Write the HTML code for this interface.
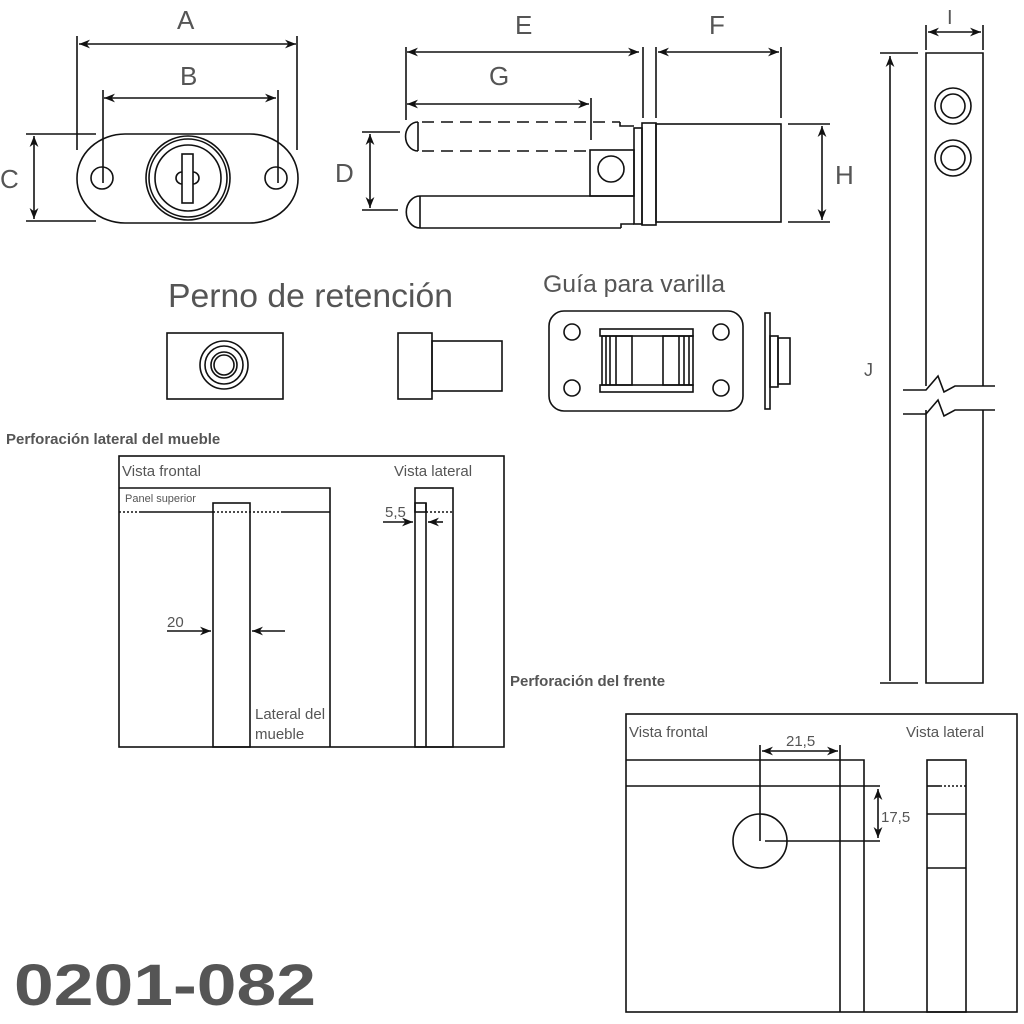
<!DOCTYPE html>
<html><head><meta charset="utf-8"><style>
html,body{margin:0;padding:0;background:#fff;}
svg{display:block;}
text{font-family:"Liberation Sans",sans-serif;fill:#555;}
</style></head><body>
<svg width="1024" height="1024" viewBox="0 0 1024 1024" xmlns="http://www.w3.org/2000/svg">
<defs>
<marker id="ar" viewBox="0 0 10 10" refX="10" refY="5" markerWidth="12" markerHeight="11" orient="auto-start-reverse" markerUnits="userSpaceOnUse"><path d="M0,1 L10,5 L0,9 L3,5 z" fill="#111"/></marker>
</defs>
<g stroke="#111" stroke-width="1.6" fill="none">
<line x1="79" y1="44" x2="296" y2="44" marker-start="url(#ar)" marker-end="url(#ar)"/>
<line x1="77" y1="36" x2="77" y2="150"/><line x1="297" y1="36" x2="297" y2="150"/>
<line x1="104" y1="98" x2="276" y2="98" marker-start="url(#ar)" marker-end="url(#ar)"/>
<line x1="103" y1="90" x2="103" y2="183"/><line x1="278" y1="90" x2="278" y2="183"/>
<rect x="77" y="134" width="221" height="89" rx="48" ry="44"/>
<circle cx="102" cy="178" r="11"/><circle cx="276" cy="178" r="11"/>
<circle cx="188" cy="178" r="42"/><circle cx="188" cy="178" r="39"/><circle cx="188" cy="178" r="33"/>
<rect x="182" y="154" width="11" height="49"/>
<path d="M182,172 a6,6 0 0 0 0,12 M193,172 a6,6 0 0 1 0,12"/>
<line x1="34" y1="136" x2="34" y2="219" marker-start="url(#ar)" marker-end="url(#ar)"/>
<line x1="26" y1="134" x2="96" y2="134"/><line x1="26" y1="221" x2="96" y2="221"/>
<line x1="407" y1="52" x2="639" y2="52" marker-start="url(#ar)" marker-end="url(#ar)"/>
<line x1="406" y1="47" x2="406" y2="120"/>
<line x1="407" y1="104" x2="589" y2="104" marker-start="url(#ar)" marker-end="url(#ar)"/>
<line x1="591" y1="98" x2="591" y2="140"/>
<path d="M418,122 a12,14 0 0 0 0,29" />
<line x1="418" y1="122" x2="418" y2="151"/>
<line x1="422" y1="122" x2="620" y2="122" stroke-dasharray="12,7"/>
<line x1="422" y1="151" x2="590" y2="151" stroke-dasharray="12,7"/>
<path d="M420,196 a12,14 0 0 0 0,32"/>
<line x1="420" y1="196" x2="420" y2="228"/>
<line x1="420" y1="196" x2="634" y2="196"/>
<line x1="420" y1="228" x2="621" y2="228"/>
<path d="M621,228 v-4 h13 M620,122 v4 h14"/>
<rect x="590" y="150" width="44" height="46"/>
<circle cx="611" cy="169" r="13"/>
<rect x="634" y="128" width="8" height="96"/>
<rect x="642" y="123" width="14" height="102"/>
<rect x="656" y="124" width="125" height="98"/>
<line x1="643" y1="47" x2="643" y2="118"/><line x1="656" y1="47" x2="656" y2="118"/>
<line x1="658" y1="52" x2="779" y2="52" marker-start="url(#ar)" marker-end="url(#ar)"/>
<line x1="781" y1="47" x2="781" y2="118"/>
<line x1="370" y1="134" x2="370" y2="208" marker-start="url(#ar)" marker-end="url(#ar)"/>
<line x1="362" y1="132" x2="400" y2="132"/><line x1="362" y1="210" x2="398" y2="210"/>
<line x1="822" y1="126" x2="822" y2="220" marker-start="url(#ar)" marker-end="url(#ar)"/>
<line x1="788" y1="124" x2="830" y2="124"/><line x1="788" y1="222" x2="830" y2="222"/>
<line x1="928" y1="32" x2="981" y2="32" marker-start="url(#ar)" marker-end="url(#ar)"/>
<line x1="926" y1="25" x2="926" y2="50"/><line x1="983" y1="25" x2="983" y2="50"/>
<path d="M926,386 V53 H983 V386"/>
<path d="M926,410 V683 H983 V410"/>
<circle cx="953" cy="106" r="18"/><circle cx="953" cy="106" r="12"/>
<circle cx="953" cy="158" r="18"/><circle cx="953" cy="158" r="12"/>
<path d="M903,390 H926 L938,376 L944,392 L955,386 H995"/>
<path d="M903,414 H926 L938,400 L944,416 L955,410 H995"/>
<line x1="890" y1="681" x2="890" y2="56" marker-end="url(#ar)"/>
<line x1="880" y1="53" x2="918" y2="53"/><line x1="880" y1="683" x2="918" y2="683"/>
<rect x="167" y="333" width="116" height="66"/>
<circle cx="224" cy="365" r="24"/><circle cx="224" cy="365" r="19"/><circle cx="224" cy="365" r="13"/><circle cx="224" cy="365" r="10"/>
<rect x="398" y="333" width="34" height="66"/>
<rect x="432" y="341" width="70" height="50"/>
<rect x="549" y="311" width="194" height="100" rx="15"/>
<circle cx="572" cy="332" r="8"/><circle cx="721" cy="332" r="8"/><circle cx="572" cy="388" r="8"/><circle cx="721" cy="388" r="8"/>
<rect x="600" y="329" width="93" height="7"/><rect x="600" y="385" width="93" height="7"/>
<rect x="602" y="336" width="30" height="49"/><line x1="606" y1="336" x2="606" y2="385"/><line x1="610" y1="336" x2="610" y2="385"/><line x1="616" y1="336" x2="616" y2="385"/>
<rect x="663" y="336" width="30" height="49"/><line x1="679" y1="336" x2="679" y2="385"/><line x1="684" y1="336" x2="684" y2="385"/><line x1="689" y1="336" x2="689" y2="385"/>
<rect x="765" y="313" width="5" height="96"/>
<rect x="770" y="336" width="8" height="51"/>
<rect x="778" y="338" width="12" height="46"/>
<rect x="119" y="456" width="385" height="291"/>
<path d="M119,488 H330 V747"/>
<line x1="140" y1="512" x2="330" y2="512"/>
<line x1="119" y1="512" x2="140" y2="512" stroke-dasharray="2,2"/>
<line x1="213" y1="512" x2="283" y2="512" stroke="#fff" stroke-width="2"/>
<line x1="213" y1="512" x2="283" y2="512" stroke-dasharray="2,2"/>
<rect x="213" y="503" width="37" height="244"/>
<line x1="167" y1="631" x2="211" y2="631" marker-end="url(#ar)"/>
<line x1="285" y1="631" x2="252" y2="631" marker-end="url(#ar)"/>
<rect x="415" y="488" width="38" height="259"/>
<line x1="426" y1="503" x2="426" y2="747"/>
<rect x="415" y="503" width="11" height="9"/>
<line x1="426" y1="512" x2="453" y2="512" stroke-dasharray="2,2"/>
<line x1="383" y1="522" x2="413" y2="522" marker-end="url(#ar)"/>
<line x1="443" y1="522" x2="428" y2="522" marker-end="url(#ar)"/>
<rect x="626" y="714" width="391" height="298"/>
<path d="M626,760 H864 V1012"/>
<line x1="626" y1="786" x2="880" y2="786"/>
<line x1="840" y1="745" x2="840" y2="1012"/>
<circle cx="760" cy="841" r="27"/>
<line x1="760" y1="745" x2="760" y2="841"/>
<line x1="765" y1="841" x2="880" y2="841"/>
<line x1="762" y1="751" x2="838" y2="751" marker-start="url(#ar)" marker-end="url(#ar)"/>
<line x1="878" y1="789" x2="878" y2="838" marker-start="url(#ar)" marker-end="url(#ar)"/>
<rect x="927" y="760" width="39" height="252"/>
<line x1="927" y1="786" x2="940" y2="786"/><line x1="940" y1="786" x2="966" y2="786" stroke-dasharray="2,2"/>
<line x1="927" y1="814" x2="966" y2="814"/>
<line x1="927" y1="868" x2="966" y2="868"/>
</g>
<g font-size="26">
<text x="177" y="29">A</text><text x="180" y="85">B</text><text x="0" y="188">C</text>
<text x="515" y="34">E</text><text x="709" y="34">F</text><text x="489" y="85">G</text>
<text x="335" y="182">D</text><text x="835" y="184">H</text>
</g>
<text x="947" y="24" font-size="20">I</text>
<text x="864" y="376" font-size="18">J</text>
<text x="168" y="307" font-size="33" textLength="285" lengthAdjust="spacingAndGlyphs">Perno de retención</text>
<text x="543" y="292" font-size="24" textLength="182" lengthAdjust="spacingAndGlyphs">Guía para varilla</text>
<text x="6" y="444" font-size="15" font-weight="bold" fill="#444">Perforación lateral del mueble</text>
<text x="510" y="686" font-size="15" font-weight="bold" fill="#444">Perforación del frente</text>
<g font-size="15" fill="#444">
<text x="122" y="476">Vista frontal</text><text x="394" y="476">Vista lateral</text>
<text x="167" y="627">20</text><text x="385" y="517">5,5</text>
<text x="255" y="719">Lateral del</text><text x="255" y="739">mueble</text>
<text x="629" y="737">Vista frontal</text><text x="906" y="737">Vista lateral</text>
<text x="786" y="746">21,5</text><text x="881" y="822">17,5</text>
</g>
<text x="125" y="502" font-size="11" fill="#444">Panel superior</text>
<text x="14" y="1005" font-size="58" font-weight="bold" fill="#555" textLength="302" lengthAdjust="spacingAndGlyphs">0201-082</text>
</svg>
</body></html>
